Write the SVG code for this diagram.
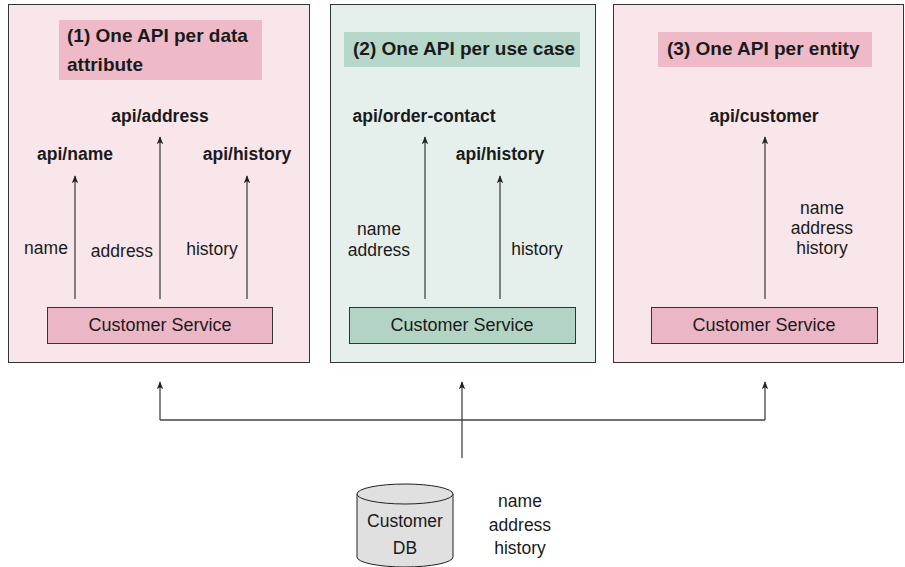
<svg xmlns="http://www.w3.org/2000/svg" width="905" height="567" viewBox="0 0 905 567">
<defs>
<marker id="arr" viewBox="0 0 10 10" refX="9" refY="5" markerWidth="8" markerHeight="8" markerUnits="userSpaceOnUse" orient="auto">
<path d="M0,1 L10,5 L0,9 L2.5,5 Z" fill="#222"/>
</marker>
</defs>
<style>
text{font-family:"Liberation Sans",Arial,sans-serif;fill:#1a1a1a}
.t{font-size:17.5px}
.s{font-size:18px}
.b{font-size:17.5px;font-weight:bold}
.h{font-size:19px;font-weight:bold}
.m{text-anchor:middle}
.panelP{fill:#f9e6ea;stroke:#333;stroke-width:1}
.panelG{fill:#e5efec;stroke:#333;stroke-width:1}
.titleP{fill:#efbac8}
.titleG{fill:#b6d7c9}
.svcP{fill:#ebb6c6;stroke:#333;stroke-width:1}
.svcG{fill:#b3d4c5;stroke:#333;stroke-width:1}
.c{stroke:#444;stroke-width:1.3;fill:none}
.ca{stroke:#444;stroke-width:1.3;fill:none;marker-end:url(#arr)}
</style>

<g id="panel1">
<rect class="panelP" x="8.5" y="4.5" width="301" height="358"/>
<rect class="titleP" x="59" y="20" width="203" height="60"/>
<text class="h" x="67" y="42">(1) One API per data</text>
<text class="h" x="67" y="71">attribute</text>
</g>
<g id="panel2">
<rect class="panelG" x="330.5" y="4.5" width="265" height="358"/>
<rect class="titleG" x="344" y="32" width="236" height="35"/>
<text class="h" x="353" y="55">(2) One API per use case</text>
</g>
<g id="panel3">
<rect class="panelP" x="613.5" y="4.5" width="290" height="358"/>
<rect class="titleP" x="658" y="32" width="214" height="35"/>
<text class="h" x="667" y="55">(3) One API per entity</text>
</g>

<g id="svc1"><rect class="svcP" x="47.5" y="307.5" width="225" height="36"/><text class="s m" x="160" y="331">Customer Service</text></g>
<g id="svc2"><rect class="svcG" x="349.5" y="307.5" width="226" height="36"/><text class="s m" x="462" y="331">Customer Service</text></g>
<g id="svc3"><rect class="svcP" x="651.5" y="307.5" width="226" height="36"/><text class="s m" x="764" y="331">Customer Service</text></g>

<g id="api-name"><text class="b m" x="75" y="160">api/name</text></g>
<g id="api-address"><text class="b m" x="160" y="122">api/address</text></g>
<g id="api-history1"><text class="b m" x="247" y="160">api/history</text></g>
<g id="api-order-contact"><text class="b m" x="424" y="122">api/order-contact</text></g>
<g id="api-history2"><text class="b m" x="500" y="160">api/history</text></g>
<g id="api-customer"><text class="b m" x="764" y="122">api/customer</text></g>

<g id="customer-db">
<path d="M357,494 L357,557 A48,10 0 0 0 453,557 L453,494" fill="#e0e0e0" stroke="#222" stroke-width="1"/>
<ellipse cx="405" cy="494" rx="48" ry="10" fill="#e0e0e0" stroke="#222" stroke-width="1"/>
<text class="t m" x="405" y="527">Customer</text>
<text class="t m" x="405" y="554">DB</text>
</g>
<g id="db-fields">
<text class="t m" x="520" y="507">name</text>
<text class="t m" x="520" y="531">address</text>
<text class="t m" x="520" y="554">history</text>
</g>

<g id="connectors">
<line class="ca" x1="75" y1="299" x2="75" y2="176"/>
<line class="ca" x1="160" y1="299" x2="160" y2="137"/>
<line class="ca" x1="247" y1="299" x2="247" y2="176"/>
<line class="ca" x1="425" y1="299" x2="425" y2="137"/>
<line class="ca" x1="500" y1="299" x2="500" y2="176"/>
<line class="ca" x1="765" y1="299" x2="765" y2="137"/>
<polyline class="ca" points="160,420 160,382"/>
<polyline class="ca" points="765,420 765,382"/>
<line class="c" x1="160" y1="420" x2="765" y2="420"/>
<line class="ca" x1="462" y1="458" x2="462" y2="382"/>
<text class="t m" x="46" y="254">name</text>
<text class="t m" x="122" y="257">address</text>
<text class="t m" x="212" y="255">history</text>
<text class="t m" x="379" y="235">name</text>
<text class="t m" x="379" y="256">address</text>
<text class="t m" x="537" y="255">history</text>
<text class="t m" x="822" y="214">name</text>
<text class="t m" x="822" y="234">address</text>
<text class="t m" x="822" y="254">history</text>
</g>
</svg>
